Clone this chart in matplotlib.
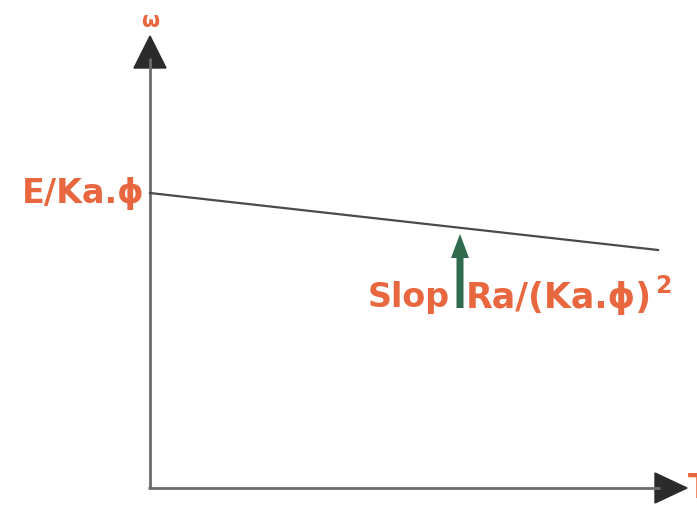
import matplotlib.pyplot as plt

# speed-torque characteristic of a separately excited DC motor
torque = [0, 508]
speed = [295, 238]
no_load_label = "E/Ka.ϕ"
slope_word = "Slop"
slope_expr = "Ra/(Ka.ϕ)"

orange = "#E8673E"
axis_grey = "#6b6b6b"
head_dark = "#2b2b2b"
green = "#2f6b4c"

plt.rcParams["font.family"] = ["DejaVu Sans"]

fig = plt.figure(figsize=(6.97, 5.08), dpi=100)
ax = fig.add_axes([0, 0, 1, 1])
ax.set_xlim(-150, 547)
ax.set_ylim(-20, 488)
ax.axis("off")

# axes with filled arrowheads
ax.plot([0, 0], [0, 430], color=axis_grey, lw=2, solid_capstyle="butt")
ax.plot([-2, 510], [0, 0], color=axis_grey, lw=2, solid_capstyle="butt")
ax.fill([-16, 16, 0], [420, 420, 452], color=head_dark)
ax.fill([505, 505, 537], [-15, 15, 0], color=head_dark)

ax.text(0, 467, "ω", color=orange, fontsize=15, fontweight="bold",
        ha="center", va="center")
ax.text(538, 0, "T", color=orange, fontsize=24, fontweight="bold",
        ha="left", va="center")

# the characteristic line
ax.plot(torque, speed, color="#4a4a4a", lw=1.6)
ax.text(-5, speed[0], no_load_label, color=orange, fontsize=24,
        fontweight="bold", ha="right", va="center")

# slope pointer
ax.arrow(310, 180, 0, 74, width=7, head_width=18, head_length=24,
         length_includes_head=True, color=green, lw=0)
ax.text(300, 190, slope_word, color=orange, fontsize=24, fontweight="bold",
        ha="right", va="center")
t = ax.text(316, 190, slope_expr, color=orange, fontsize=25, fontweight="bold",
            ha="left", va="center")
ax.annotate("2", xy=(1, 1), xycoords=t, xytext=(2, 5),
            textcoords="offset points", color=orange, fontsize=17,
            fontweight="bold", ha="left", va="top")

fig.savefig("out.png", dpi=100)
